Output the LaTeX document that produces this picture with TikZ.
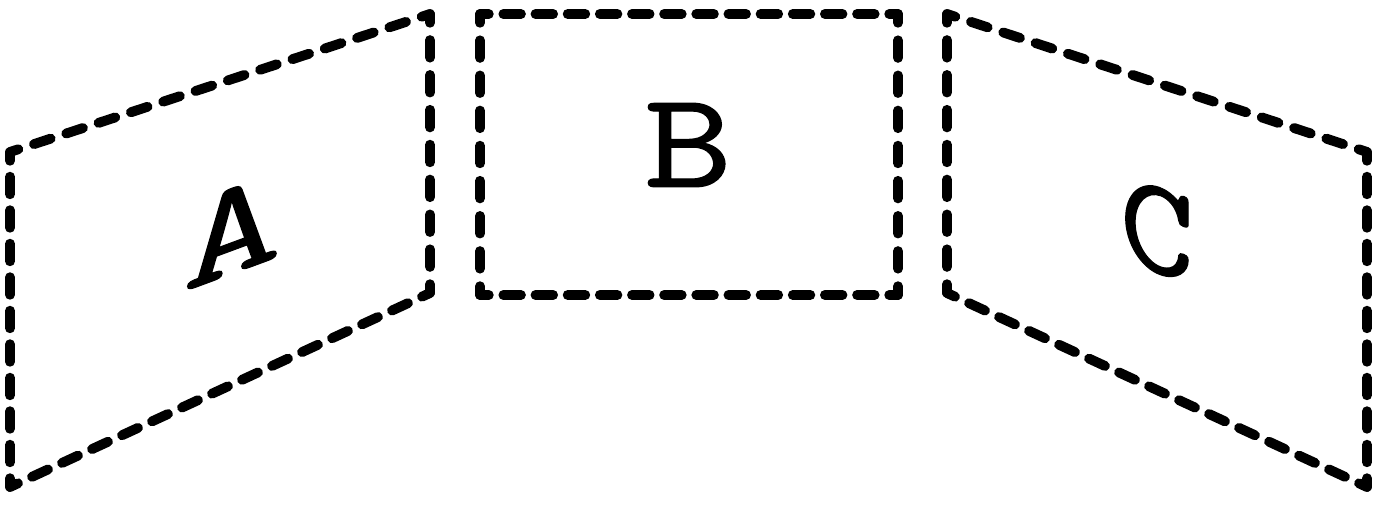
\documentclass[tikz,border=0pt]{standalone}
\usepackage{fontspec}
\usepackage{tikz}
\usetikzlibrary{calc}
\newfontfamily\panelfont[FakeBold=0.8]{Latin Modern Mono}

\tikzset{
  panel/.style={line width=5.6pt, line cap=round},
  letter/.style={font=\fontsize{78}{80}\selectfont\panelfont, inner sep=0pt}
}
% one dashed side, a half dash at each corner
\newcommand\dashside[2]{%
  \path let \p1=($(#2)-(#1)$), \n1={veclen(\x1,\y1)} in
    \pgfextra{\pgfmathsetmacro\sidelen{\n1}\xdef\sidelen{\sidelen}};
  \pgfmathsetmacro\nper{max(1,round(\sidelen/19))}
  \pgfmathsetmacro\offlen{\sidelen/\nper-10}
  \draw[panel, dash pattern=on 10pt off \offlen pt, dash phase=5pt] (#1) -- (#2);
}

\begin{document}
\begin{tikzpicture}[x=0.02cm, y=0.02cm]
    \useasboundingbox (0,0) rectangle (1382,513);
    % left panel
    \coordinate (A1) at (10,361);
    \coordinate (A2) at (430,499);
    \coordinate (A3) at (430,220);
    \coordinate (A4) at (10,26);
    % middle panel
    \coordinate (B1) at (480,499);
    \coordinate (B2) at (898,499);
    \coordinate (B3) at (898,218);
    \coordinate (B4) at (480,218);
    % right panel
    \coordinate (C1) at (947,499);
    \coordinate (C2) at (1367,361);
    \coordinate (C3) at (1367,26);
    \coordinate (C4) at (947,220);
    \foreach \pnl in {A,B,C}{
      \dashside{\pnl1}{\pnl2}
      \dashside{\pnl2}{\pnl3}
      \dashside{\pnl3}{\pnl4}
      \dashside{\pnl4}{\pnl1}
    }
    \node[letter, yslant=0.37, xscale=1.4] (labA) at (232,282) {A};
    \node[letter, xscale=1.25] (labB) at (688,368) {B};
    \node[letter, yslant=-0.37, xscale=1.05] (labC) at (1157,283) {C};
\end{tikzpicture}
\end{document}
